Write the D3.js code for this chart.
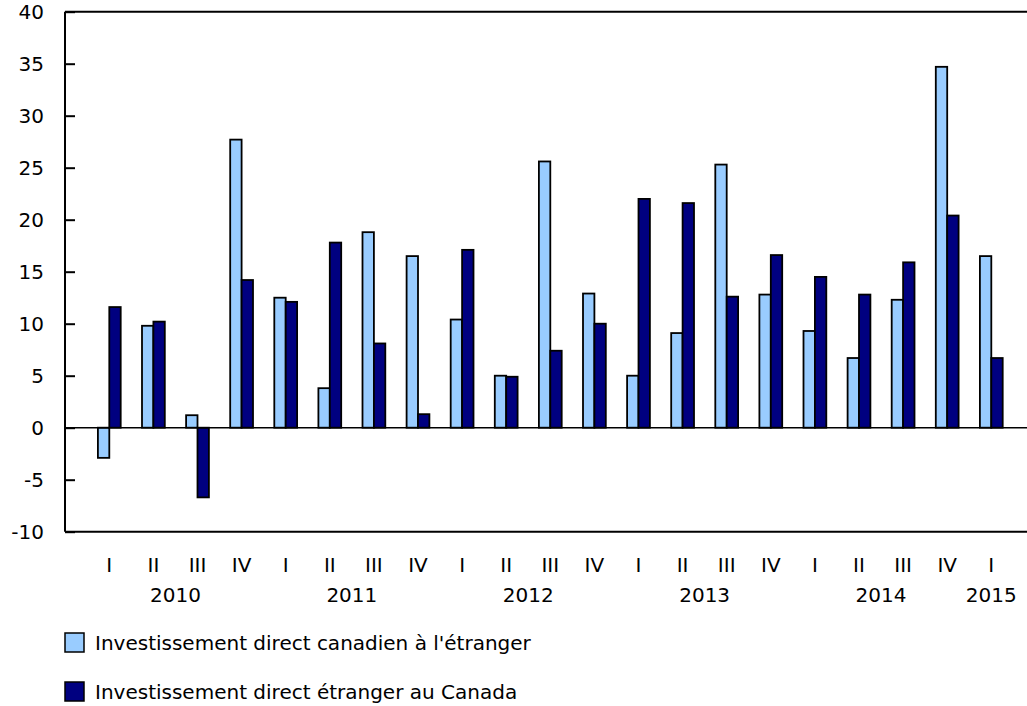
<!DOCTYPE html>
<html>
<head>
<meta charset="utf-8">
<script src="https://cdn.jsdelivr.net/npm/d3@7"></script>
<style>
  body { margin: 0; background: #fff; }
  text { font-family: "DejaVu Sans", Verdana, sans-serif; font-size: 20px; fill: #000; }
</style>
</head>
<body>
<div id="wrapper"></div>
<script>
// quarters 2010 Q1 .. 2015 Q1
const quarters = ["I","II","III","IV","I","II","III","IV","I","II","III","IV","I","II","III","IV","I","II","III","IV","I"]
const years = ["2010","2011","2012","2013","2014","2015"]
const yearOfQuarter = [0,0,0,0,1,1,1,1,2,2,2,2,3,3,3,3,4,4,4,4,5]
const seriesNames = ["Investissement direct canadien à l'étranger", "Investissement direct étranger au Canada"]
const canadianAbroad = [-2.9, 9.8, 1.2, 27.7, 12.5, 3.8, 18.8, 16.5, 10.4, 5.0, 25.6, 12.9, 5.0, 9.1, 25.3, 12.8, 9.3, 6.7, 12.3, 34.7, 16.5]
const foreignInCanada = [11.6, 10.2, -6.7, 14.2, 12.1, 17.8, 8.1, 1.3, 17.1, 4.9, 7.4, 10.0, 22.0, 21.6, 12.6, 16.6, 14.5, 12.8, 15.9, 20.4, 6.7]
const yTicks = [-10, -5, 0, 5, 10, 15, 20, 25, 30, 35, 40]
const colors = ["#99ccff", "#000080"]

const width = 1027
const height = 706
const plot = { left: 65, top: 11.7, bottom: 531.7, right: 1027 }

const keys = quarters.map((q, i) => i)

const svg = d3.select("#wrapper").append("svg")
  .attr("width", width)
  .attr("height", height)

const yScale = d3.scaleLinear()
  .domain([-10, 40])
  .range([plot.bottom, plot.top])

const xScale = d3.scaleBand()
  .domain(keys)
  .range([87.25, 1013.35])
  .paddingInner(0.483)
  .paddingOuter(0.2415)

const xSeries = d3.scaleBand()
  .domain([0, 1])
  .range([0, xScale.bandwidth()])

// y axis with inward ticks
const yAxis = d3.axisRight(yScale)
  .tickValues(yTicks)
  .tickSize(10)
  .tickFormat("")

const yAxisG = svg.append("g")
  .attr("transform", `translate(${plot.left},0)`)
  .call(yAxis)
yAxisG.select(".domain").remove()
yAxisG.selectAll(".tick line").attr("stroke", "#000").attr("stroke-width", 2)

svg.append("g").selectAll("text")
  .data(yTicks)
  .join("text")
    .attr("x", 44)
    .attr("y", d => yScale(d) + 7.3)
    .attr("text-anchor", "end")
    .text(d => d)

// frame lines
svg.append("line")
  .attr("x1", plot.left).attr("x2", plot.left)
  .attr("y1", plot.top).attr("y2", plot.bottom)
  .attr("stroke", "#000").attr("stroke-width", 2)
svg.append("line")
  .attr("x1", plot.left).attr("x2", plot.right)
  .attr("y1", plot.top).attr("y2", plot.top)
  .attr("stroke", "#000").attr("stroke-width", 2)
svg.append("line")
  .attr("x1", plot.left).attr("x2", plot.right)
  .attr("y1", plot.bottom).attr("y2", plot.bottom)
  .attr("stroke", "#000").attr("stroke-width", 2)

// bars
const seriesData = [canadianAbroad, foreignInCanada]
seriesData.forEach((values, s) => {
  svg.append("g").selectAll("rect")
    .data(values)
    .join("rect")
      .attr("x", (d, i) => xScale(i) + xSeries(s))
      .attr("width", xSeries.bandwidth())
      .attr("y", d => yScale(Math.max(0, d)))
      .attr("height", d => Math.abs(yScale(d) - yScale(0)))
      .attr("fill", colors[s])
      .attr("stroke", "#000")
      .attr("stroke-width", 1.8)
})

// zero line
svg.append("line")
  .attr("x1", plot.left).attr("x2", plot.right)
  .attr("y1", yScale(0)).attr("y2", yScale(0))
  .attr("stroke", "#000").attr("stroke-width", 1.5)

// x labels
svg.append("g").selectAll("text")
  .data(quarters)
  .join("text")
    .attr("x", (d, i) => xScale(i) + xScale.bandwidth() / 2)
    .attr("y", 572.3)
    .attr("text-anchor", "middle")
    .text(d => d)

svg.append("g").selectAll("text")
  .data(years)
  .join("text")
    .attr("x", (d, yi) => {
      const idx = keys.filter(i => yearOfQuarter[i] === yi)
      const first = xScale(idx[0]) + xScale.bandwidth() / 2
      const last = xScale(idx[idx.length - 1]) + xScale.bandwidth() / 2
      return (first + last) / 2
    })
    .attr("y", 602.3)
    .attr("text-anchor", "middle")
    .text(d => d)

// legend
const legend = svg.append("g").selectAll("g")
  .data(seriesNames)
  .join("g")
    .attr("transform", (d, i) => `translate(65,${633 + i * 49})`)
legend.append("rect")
  .attr("width", 19).attr("height", 19)
  .attr("fill", (d, i) => colors[i])
  .attr("stroke", "#000").attr("stroke-width", 1.5)
legend.append("text")
  .attr("x", 30)
  .attr("y", 17)
  .text(d => d)
</script>
</body>
</html>
